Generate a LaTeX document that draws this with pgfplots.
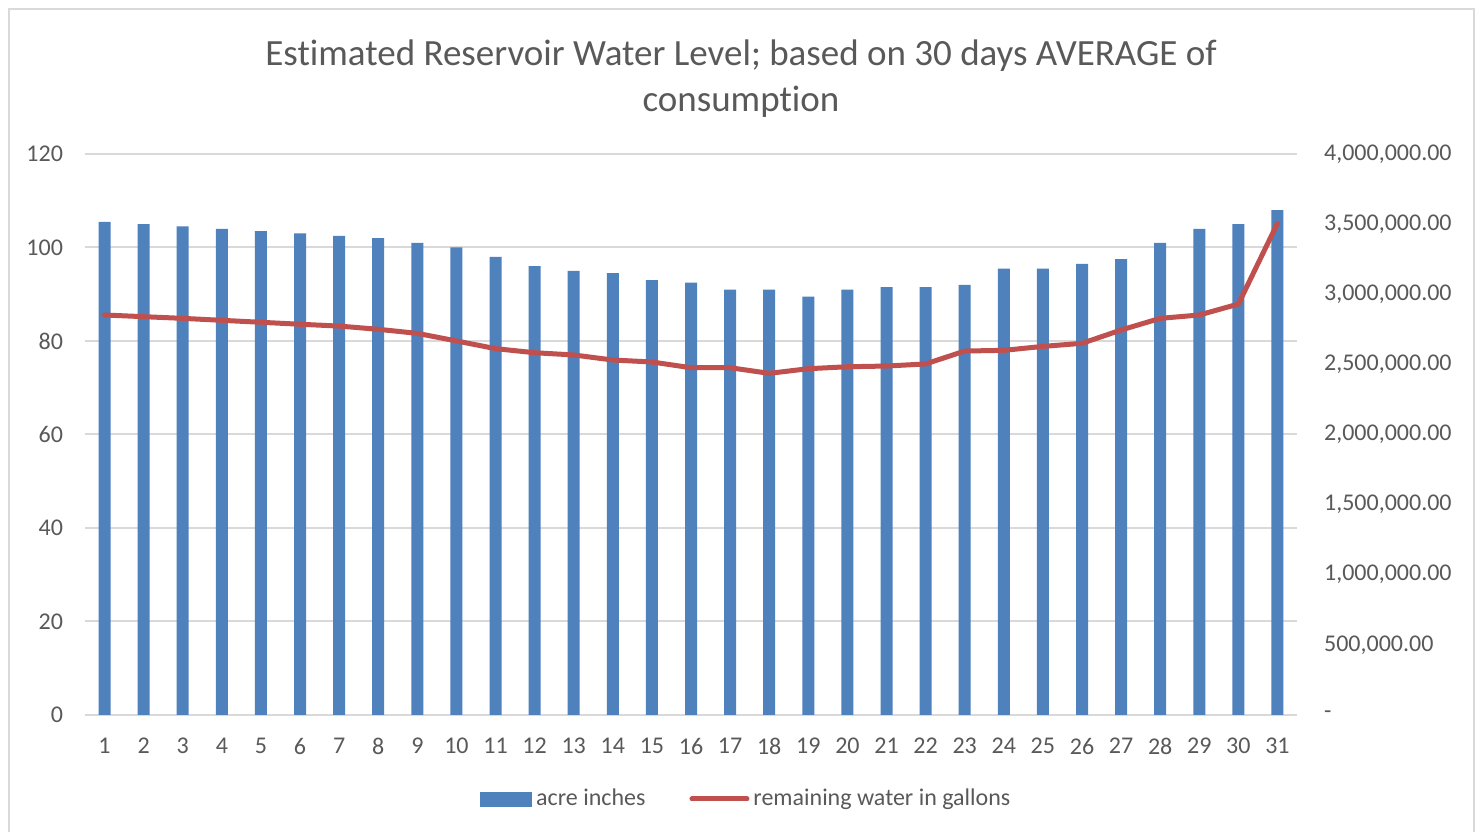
\documentclass[border=0pt]{standalone}
\usepackage{pgfplots}
\pgfplotsset{compat=1.18}
\usepackage{fontspec}
\setmainfont[Ligatures={NoCommon,NoContextual}, Contextuals=NoAlternate]{Carlito}
\definecolor{txt}{HTML}{595959}
\definecolor{gridc}{HTML}{D9D9D9}
\definecolor{barblue}{HTML}{4F81BD}
\definecolor{linered}{HTML}{C0504D}
\begin{document}
\begin{tikzpicture}[x=0.5bp,y=0.5bp]
\path[use as bounding box] (0,0) rectangle (1481,832);
\fill[white] (0,0) rectangle (1481,832);
\draw[gridc, line width=1bp] (9,0) -- (9,823) -- (1474,823) -- (1474,0);
\node[text=txt, font=\fontsize{18.5bp}{23bp}\selectfont, anchor=base, inner sep=0pt] at (741,766) {Est\kern0pt imated Reservoir Water Level; based on 30 days AVERAGE of};
\node[text=txt, font=\fontsize{18.5bp}{23bp}\selectfont, anchor=base, inner sep=0pt] at (741,720) {consumpt\kern0pt ion};
\begin{axis}[
  at={(42.5bp,58.5bp)}, anchor=south west, scale only axis,
  width=606bp, height=280.5bp,
  xmin=0.5, xmax=31.5, ymin=0, ymax=120,
  ytick={0,20,40,60,80,100,120},
  xtick={1,...,31},
  ymajorgrids, grid style={gridc, line width=1bp},
  axis line style={draw=none},
  major tick length=0pt,
  tick label style={text=txt, font=\fontsize{12bp}{14bp}\selectfont},
  yticklabel style={xshift=-7.5bp},
  xticklabel style={yshift=-8bp},
  /pgf/number format/assume math mode=true,
  ybar, bar width=6bp,
]
\addplot[fill=barblue, draw=none, bar shift=0pt] coordinates {
(1,105.5) (2,105) (3,104.5) (4,104) (5,103.5) (6,103) (7,102.5) (8,102)
(9,101) (10,100) (11,98) (12,96) (13,95) (14,94.5) (15,93) (16,92.5)
(17,91) (18,91) (19,89.5) (20,91) (21,91.5) (22,91.5) (23,92) (24,95.5)
(25,95.5) (26,96.5) (27,97.5) (28,101) (29,104) (30,105) (31,108)};
\end{axis}
\begin{axis}[
  at={(42.5bp,58.5bp)}, anchor=south west, scale only axis,
  width=606bp, height=280.5bp,
  xmin=0.5, xmax=31.5, ymin=0, ymax=4000000,
  axis y line*=right, axis x line=none,
  axis line style={draw=none},
  major tick length=0pt,
  scaled y ticks=false,
  ytick={0,500000,1000000,1500000,2000000,2500000,3000000,3500000,4000000},
  yticklabels={{-},{500,000.00},{1,000,000.00},{1,500,000.00},{2,000,000.00},{2,500,000.00},{3,000,000.00},{3,500,000.00},{4,000,000.00}},
  tick label style={text=txt, font=\fontsize{12bp}{14bp}\selectfont},
  yticklabel style={anchor=west, xshift=10bp},
  legend columns=2,
  legend style={at={(0.5465,-0.1497)}, anchor=center, draw=none, fill=none,
    font=\fontsize{12bp}{14bp}\selectfont, text=txt,
    /tikz/every even column/.append style={column sep=20bp}},
  legend cell align=left,
]
\addlegendimage{legend image code/.code={\fill[barblue] (0bp,-3.5bp) rectangle (25.5bp,3.5bp);}}
\addlegendentry{acre inches}
\addplot[linered, line width=2.5bp, line join=round, line cap=round,
  legend image code/.code={\draw[linered, line width=2.5bp, line cap=round] (0bp,0bp) -- (27.5bp,0bp);}] coordinates {
(1,2852000) (2,2840000) (3,2828000) (4,2814000) (5,2800000) (6,2786000)
(7,2773000) (8,2750000) (9,2721000) (10,2667000) (11,2612000) (12,2583000)
(13,2567000) (14,2531000) (15,2517000) (16,2476000) (17,2476000) (18,2436000)
(19,2469000) (20,2483000) (21,2488000) (22,2503000) (23,2595000) (24,2600000)
(25,2628000) (26,2650000) (27,2745000) (28,2828000) (29,2852000) (30,2930000)
(31,3506000)};
\addlegendentry{remaining water in gallons}
\end{axis}
\end{tikzpicture}
\end{document}
